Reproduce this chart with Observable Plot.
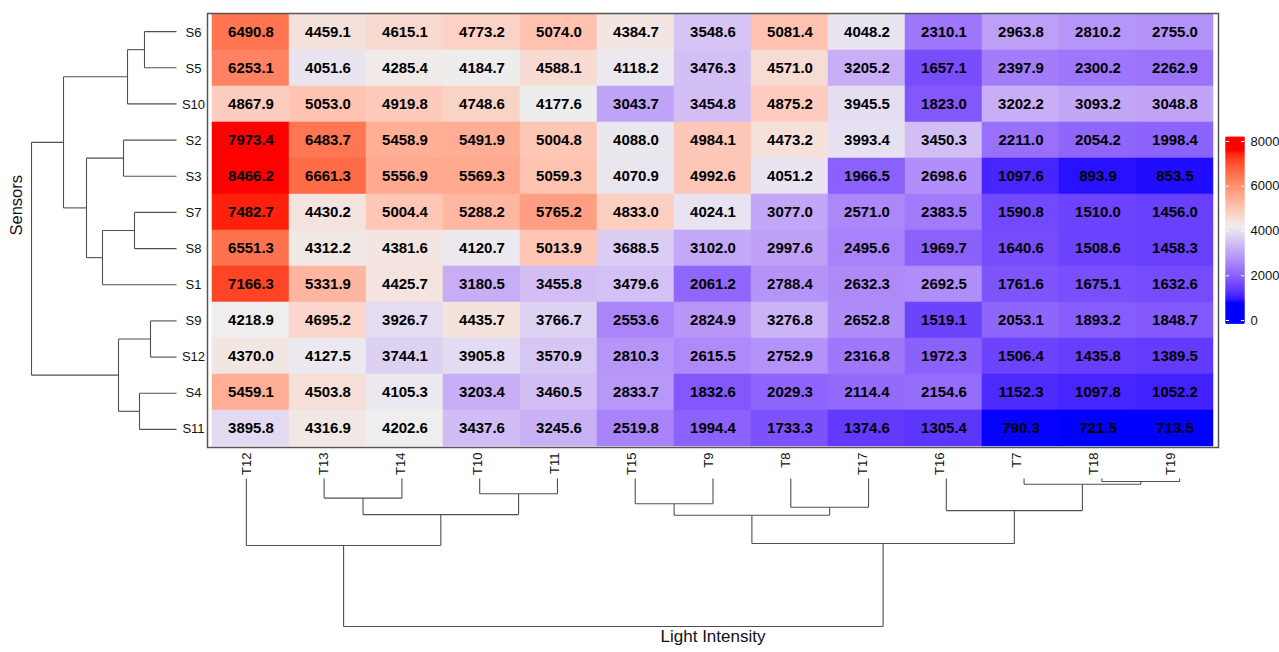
<!DOCTYPE html>
<html><head><meta charset="utf-8">
<script src="https://cdn.jsdelivr.net/npm/d3@7"></script>
<script src="https://cdn.jsdelivr.net/npm/@observablehq/plot@0.6"></script>
<style>
body{margin:0;background:#fff;}
#chart{position:relative;width:1279px;height:652px;}
#chart svg{position:absolute;left:0;top:0;max-width:none;}
</style></head><body><div id="chart"></div>
<script>
// ---- data ----
const sensors = ["S6","S5","S10","S2","S3","S7","S8","S1","S9","S12","S4","S11"];
const lights = ["T12","T13","T14","T10","T11","T15","T9","T8","T17","T16","T7","T18","T19"];
const S6  = [6490.8,4459.1,4615.1,4773.2,5074.0,4384.7,3548.6,5081.4,4048.2,2310.1,2963.8,2810.2,2755.0];
const S5  = [6253.1,4051.6,4285.4,4184.7,4588.1,4118.2,3476.3,4571.0,3205.2,1657.1,2397.9,2300.2,2262.9];
const S10 = [4867.9,5053.0,4919.8,4748.6,4177.6,3043.7,3454.8,4875.2,3945.5,1823.0,3202.2,3093.2,3048.8];
const S2  = [7973.4,6483.7,5458.9,5491.9,5004.8,4088.0,4984.1,4473.2,3993.4,3450.3,2211.0,2054.2,1998.4];
const S3  = [8466.2,6661.3,5556.9,5569.3,5059.3,4070.9,4992.6,4051.2,1966.5,2698.6,1097.6,893.9,853.5];
const S7  = [7482.7,4430.2,5004.4,5288.2,5765.2,4833.0,4024.1,3077.0,2571.0,2383.5,1590.8,1510.0,1456.0];
const S8  = [6551.3,4312.2,4381.6,4120.7,5013.9,3688.5,3102.0,2997.6,2495.6,1969.7,1640.6,1508.6,1458.3];
const S1  = [7166.3,5331.9,4425.7,3180.5,3455.8,3479.6,2061.2,2788.4,2632.3,2692.5,1761.6,1675.1,1632.6];
const S9  = [4218.9,4695.2,3926.7,4435.7,3766.7,2553.6,2824.9,3276.8,2652.8,1519.1,2053.1,1893.2,1848.7];
const S12 = [4370.0,4127.5,3744.1,3905.8,3570.9,2810.3,2615.5,2752.9,2316.8,1972.3,1506.4,1435.8,1389.5];
const S4  = [5459.1,4503.8,4105.3,3203.4,3460.5,2833.7,1832.6,2029.3,2114.4,2154.6,1152.3,1097.8,1052.2];
const S11 = [3895.8,4316.9,4202.6,3437.6,3245.6,2519.8,1994.4,1733.3,1374.6,1305.4,790.3,721.5,713.5];
const rowValues = [S6,S5,S10,S2,S3,S7,S8,S1,S9,S12,S4,S11];

// dendrogram merges: [node id, child a, child b, merge height]
const rowTree = [
  ["r1","S6","S5",32], ["r2","r1","S10",49], ["r3","S2","S3",53], ["r4","S7","S8",42],
  ["r5","r4","S1",74], ["r6","r3","r5",90], ["r7","r2","r6",113], ["r8","S9","S12",26],
  ["r9","S4","S11",37], ["r10","r8","r9",58], ["r11","r7","r10",145]
];
const colTree = [
  ["c1","T13","T14",19.6], ["c2","T10","T11",15.3], ["c3","c1","c2",36.1], ["c4","T12","c3",67],
  ["c5","T15","T9",25.2], ["c6","T8","T17",28.8], ["c7","c5","c6",36.8], ["c8","T18","T19",3],
  ["c9","T7","c8",5.7], ["c10","T16","c9",32.1], ["c11","c7","c10",65], ["c12","c4","c11",148]
];
const legendTicks = [0,2000,4000,6000,8000];
const colorDomain = [780, 4200, 7600];
const colorRange = ["#0000ff","#eeeeee","#ff0000"];

// ---- build ----
const cells = sensors.flatMap((s,i)=> lights.map((t,j)=>({sensor:s, light:t, value:rowValues[i][j]})));

function treeSegments(leaves, merges){
  const pos = new Map(), hgt = new Map();
  leaves.forEach((l,i)=>{pos.set(l,i+0.5); hgt.set(l,0);});
  const segs = [];
  for (const [id,a,b,h] of merges){
    const pa = pos.get(a), pb = pos.get(b);
    segs.push({p1:pa, p2:pb, h1:h, h2:h});
    segs.push({p1:pa, p2:pa, h1:hgt.get(a), h2:h});
    segs.push({p1:pb, p2:pb, h1:hgt.get(b), h2:h});
    pos.set(id,(pa+pb)/2); hgt.set(id,h);
  }
  return segs;
}

const W=1279, H=652;
const hm = {left:207, right:1218, top:13, bottom:447};
const colorScale = {type:"linear", domain:colorDomain, range:colorRange, interpolate:"lab", clamp:true};
const font = "'Liberation Sans', Arial, Helvetica, sans-serif";
const baseStyle = {fontFamily:font, background:"transparent", overflow:"visible"};
const lineColor = "#505050";

const heat = Plot.plot({
  width:W, height:H,
  marginLeft:hm.left, marginRight:W-hm.right, marginTop:hm.top, marginBottom:H-hm.bottom,
  style:baseStyle,
  x:{type:"band", domain:lights, padding:0, axis:null},
  y:{type:"band", domain:sensors, padding:0, axis:null},
  color:colorScale,
  marks:[
    Plot.cell(cells,{x:"light", y:"sensor", fill:"value", stroke:"value", strokeWidth:0.5, inset:0}),
    Plot.text(cells,{x:"light", y:"sensor", text:d=>d.value.toFixed(1), fontWeight:"bold", fontSize:15, fill:"black"}),
    Plot.frame({stroke:"#555", strokeWidth:1.5}),
    Plot.text(sensors,{y:d=>d, text:d=>d, frameAnchor:"left", dx:-14, textAnchor:"middle", fontSize:13, fill:"#111"}),
    Plot.text(lights,{x:d=>d, text:d=>d, frameAnchor:"bottom", dy:5, rotate:-90, textAnchor:"end", fontSize:13, fill:"#111"})
  ]
});

const rowSegs = treeSegments(sensors, rowTree);
const leftTree = Plot.plot({
  width:W, height:H,
  marginLeft:31, marginRight:W-176, marginTop:hm.top, marginBottom:H-hm.bottom,
  style:baseStyle,
  x:{type:"linear", domain:[0,145], reverse:true, axis:null},
  y:{type:"linear", domain:[0,sensors.length], reverse:true, axis:null},
  marks:[
    Plot.link(rowSegs,{x1:"h1", x2:"h2", y1:"p1", y2:"p2", stroke:lineColor, strokeWidth:1.1}),
    Plot.text(["Sensors"],{text:d=>d, frameAnchor:"left", dx:-15, dy:5, rotate:-90, fontSize:16.5, fill:"#111"})
  ]
});

const colSegs = treeSegments(lights, colTree);
const bottomTree = Plot.plot({
  width:W, height:H,
  marginLeft:hm.left, marginRight:W-hm.right, marginTop:478, marginBottom:26,
  style:baseStyle,
  x:{type:"linear", domain:[0,lights.length], axis:null},
  y:{type:"linear", domain:[0,148], reverse:true, axis:null},
  marks:[
    Plot.link(colSegs,{x1:"p1", x2:"p2", y1:"h1", y2:"h2", stroke:lineColor, strokeWidth:1.1}),
    Plot.text(["Light Intensity"],{text:d=>d, frameAnchor:"bottom", dy:15, fontSize:17, fill:"#111"})
  ]
});

const steps = d3.range(-150, 8180, 10);
const legend = Plot.plot({
  width:W, height:H,
  marginLeft:1226, marginRight:W-1244, marginTop:141, marginBottom:H-320,
  style:baseStyle,
  x:{type:"linear", domain:[0,1], axis:null},
  y:{type:"linear", domain:[0,8000], axis:null},
  color:colorScale,
  marks:[
    Plot.rect(steps,{x1:0, x2:1, y1:d=>d, y2:d=>d+10, fill:d=>d+5, stroke:d=>d+5, strokeWidth:0.6}),
    Plot.ruleY(legendTicks,{y:d=>d, x1:0, x2:0.17, stroke:"white", strokeWidth:1}),
    Plot.ruleY(legendTicks,{y:d=>d, x1:0.83, x2:1, stroke:"white", strokeWidth:1}),
    Plot.text(legendTicks,{y:d=>d, x:1, dx:6, text:d=>String(d), textAnchor:"start", fontSize:13, fill:"#111"})
  ]
});

const chart = document.getElementById("chart");
[heat, leftTree, bottomTree, legend].forEach(p=>chart.appendChild(p));
</script>
</body></html>
